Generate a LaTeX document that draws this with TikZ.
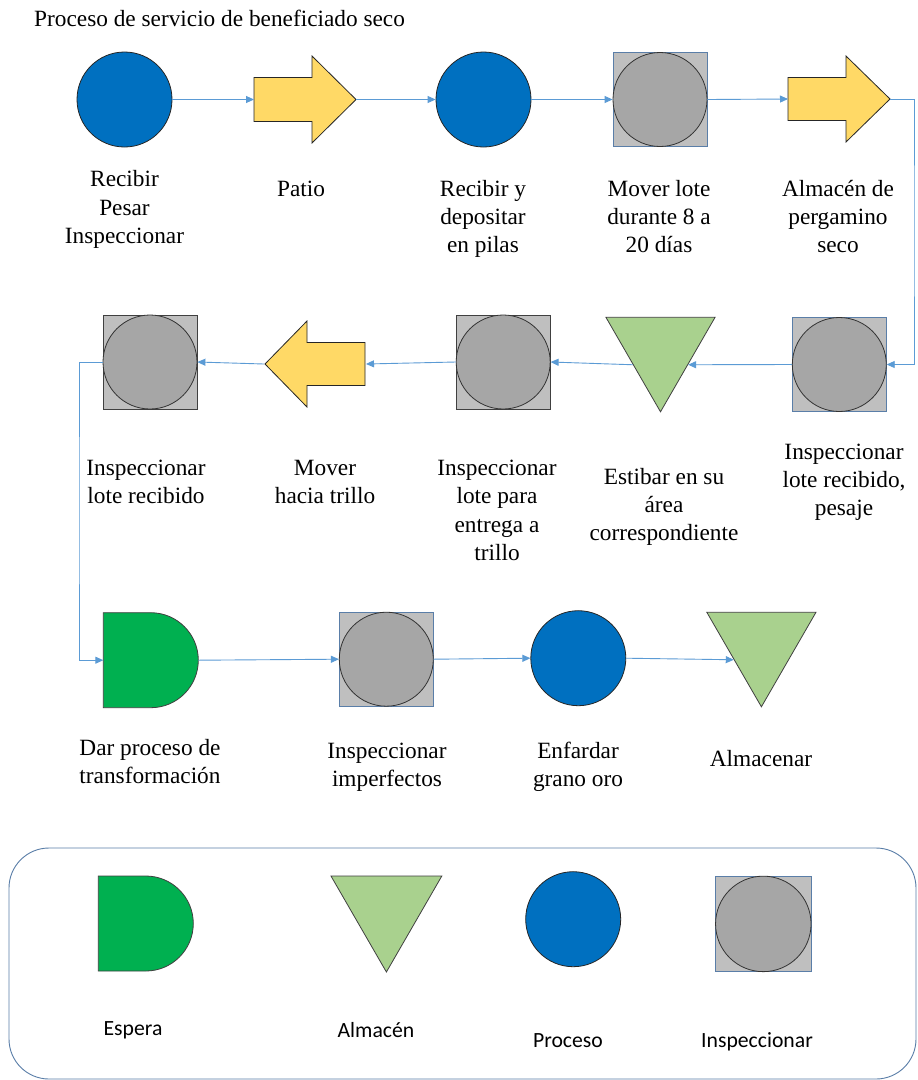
\documentclass[tikz,border=0pt]{standalone}
\usepackage{fontspec}
\setmainfont{Liberation Serif}
\newfontfamily\legendfont{Carlito}
\usetikzlibrary{arrows.meta,shapes.geometric}

\definecolor{procblue}{HTML}{0070C0}
\definecolor{movegold}{HTML}{FFD966}
\definecolor{boxgray}{HTML}{BFBFBF}
\definecolor{dotgray}{HTML}{A6A6A6}
\definecolor{storegreen}{HTML}{A9D18E}
\definecolor{waitgreen}{HTML}{00B050}
\definecolor{flowblue}{HTML}{5B9BD5}
\definecolor{boxblue}{HTML}{5A7EA8}
\definecolor{edgegray}{HTML}{404040}

\begin{document}
\begin{tikzpicture}[x=1pt,y=-1pt,
  proc/.style={circle, draw=black!85, line width=0.8pt, fill=procblue, minimum size=95pt, inner sep=0pt},
  inspbox/.style={rectangle, draw=boxblue, line width=0.8pt, fill=boxgray, minimum size=94pt, inner sep=0pt},
  inspdot/.style={circle, draw=black!80, line width=0.8pt, fill=dotgray, minimum size=94pt, inner sep=0pt},
  store/.style={regular polygon, regular polygon sides=3, shape border rotate=180, draw=edgegray, line width=0.8pt, fill=storegreen, minimum size=126pt, inner sep=0pt},
  movebox/.style={rectangle, minimum width=102pt, minimum height=87pt, inner sep=0pt, outer sep=0pt},
  waitbox/.style={rectangle, minimum size=95pt, inner sep=0pt, outer sep=0pt},
  moveshape/.style={draw=black!85, line width=0.8pt, fill=movegold, line join=miter},
  waitshape/.style={draw=edgegray, line width=0.8pt, fill=waitgreen},
  flow/.style={draw=flowblue, line width=0.9pt, -{Triangle[length=8pt,width=7pt]}},
  % multi-line labels are placed by the baseline of their last line
  lbl/.style={font=\fontsize{23.3}{28.3}\selectfont, align=center, anchor=base, inner sep=0pt},
  keylbl/.style={font=\legendfont\fontsize{21.7}{26}\selectfont, anchor=base, inner sep=0pt},
]
\useasboundingbox (0,0) rectangle (918,1080);
\fill[white] (0,0) rectangle (918,1080);

% title
\node[anchor=base west, inner sep=0pt, font=\fontsize{23.3}{28}\selectfont] (title) at (34,26.5)
  {Proceso de servicio de beneficiado seco};

% ---------- first row ----------
\node[proc] (p1) at (124.5,99.5) {};
\node[movebox] (a1) at (305,99.5) {};
\draw[moveshape, shift={(a1.center)}]
  (-51,-22) -- (7,-22) -- (7,-43.5) -- (51,0) -- (7,43.5) -- (7,22) -- (-51,22) -- cycle;
\node[proc] (p2) at (483.5,99.5) {};
\node[inspbox] (i1) at (660,99.5) {};
\node[inspdot] at (i1.center) {};
\node[movebox] (a2) at (839,99) {};
\draw[moveshape, shift={(a2.center)}]
  (-51,-21.5) -- (7,-21.5) -- (7,-43) -- (51,0) -- (7,43) -- (7,21.5) -- (-51,21.5) -- cycle;

% ---------- second row ----------
\node[inspbox] (i2) at (839.3,364.5) {};
\node[inspdot] at (i2.center) {};
\node[store] (s1) at (660.5,348.8) {};
\node[inspbox, draw=edgegray] (i3) at (503.2,362) {};
\node[inspdot] at (i3.center) {};
\node[movebox] (a3) at (315,364) {};
\draw[moveshape, shift={(a3.center)}]
  (50,-21.5) -- (-8,-21.5) -- (-8,-43) -- (-50,0) -- (-8,43) -- (-8,21.5) -- (50,21.5) -- cycle;
\node[inspbox, draw=edgegray] (i4) at (150,362) {};
\node[inspdot] at (i4.center) {};

% ---------- third row ----------
\node[waitbox] (w1) at (150.8,660.2) {};
\draw[waitshape, shift={(w1.center)}]
  (-47.5,-47.5) -- (0,-47.5) .. controls (26.2,-47.5) and (47.5,-26.2) .. (47.5,0)
  .. controls (47.5,26.2) and (26.2,47.5) .. (0,47.5) -- (-47.5,47.5) -- cycle;
\node[inspbox] (i5) at (386.3,659.2) {};
\node[inspdot] at (i5.center) {};
\node[proc] (p3) at (578.3,658.2) {};
\node[store] (s2) at (761.4,643.8) {};

% ---------- connectors ----------
\coordinate (bend1) at (914,230);
\coordinate (bend2) at (79,510);
\draw[flow] (p1.east) -- (a1.west);
\draw[flow] (a1.east) -- (p2.west);
\draw[flow] (p2.east) -- (i1.west);
\draw[flow] (i1.east) -- (a2.west);
\draw[flow] (a2.east) -| (bend1) |- (i2.east);
\draw[flow] (i2.west) -- (s1.side 1);
\draw[flow] (s1.side 3) -- (i3.east);
\draw[flow] (i3.west) -- (a3.east);
\draw[flow] (a3.west) -- (i4.east);
\draw[flow] (i4.west) -| (bend2) |- (w1.west);
\draw[flow] (w1.east) -- (i5.west);
\draw[flow] (i5.east) -- (p3.west);
\draw[flow] (p3.east) -- (s2.side 3);

% ---------- labels ----------
\node[lbl] (t1) at (124.5,243.3) {Recibir\\Pesar\\Inspeccionar};
\node[lbl] (t2) at (301,196) {Patio};
\node[lbl] (t3) at (483,252.6) {Recibir y\\depositar\\en pilas};
\node[lbl] (t4) at (659,252.6) {Mover lote\\durante 8 a\\20 días};
\node[lbl] (t5) at (838,252.6) {Almacén de\\pergamino\\seco};

\node[lbl] (t6) at (146,503.8) {Inspeccionar\\lote recibido};
\node[lbl] (t7) at (325,503.8) {Mover\\hacia trillo};
\node[lbl] (t8) at (497,560.4) {Inspeccionar\\lote para\\entrega a\\trillo};
\node[lbl] (t9) at (664,540.6) {Estibar en su\\área\\correspondiente};
\node[lbl] (t10) at (844,515.6) {Inspeccionar\\lote recibido,\\pesaje};

\node[lbl] (t11) at (150,783.8) {Dar proceso de\\transformación};
\node[lbl] (t12) at (387,786.8) {Inspeccionar\\imperfectos};
\node[lbl] (t13) at (578,786.8) {Enfardar\\grano oro};
\node[lbl] (t14) at (761,766.5) {Almacenar};

% ---------- key ----------
\begin{scope}
\clip (0,0) rectangle (918,1080);
\draw[boxblue, line width=0.9pt, rounded corners=40pt] (9,848) rectangle (916,1079);
\end{scope}

\node[waitbox] (kw) at (145.8,923.5) {};
\draw[waitshape, shift={(kw.center)}]
  (-47.5,-47.5) -- (0,-47.5) .. controls (26.2,-47.5) and (47.5,-26.2) .. (47.5,0)
  .. controls (47.5,26.2) and (26.2,47.5) .. (0,47.5) -- (-47.5,47.5) -- cycle;
\node[store, minimum size=128pt] (ks) at (386.4,908) {};
\node[proc] (kp) at (573.2,919.2) {};
\node[inspbox, minimum size=95.5pt] (ki) at (763.3,923.9) {};
\node[inspdot, minimum size=95.5pt] at (ki.center) {};

\node[keylbl] (kt1) at (133,1035) {Espera};
\node[keylbl] (kt2) at (376,1037) {Almacén};
\node[keylbl] (kt3) at (568,1047) {Proceso};
\node[keylbl] (kt4) at (757,1047) {Inspeccionar};
\end{tikzpicture}
\end{document}
